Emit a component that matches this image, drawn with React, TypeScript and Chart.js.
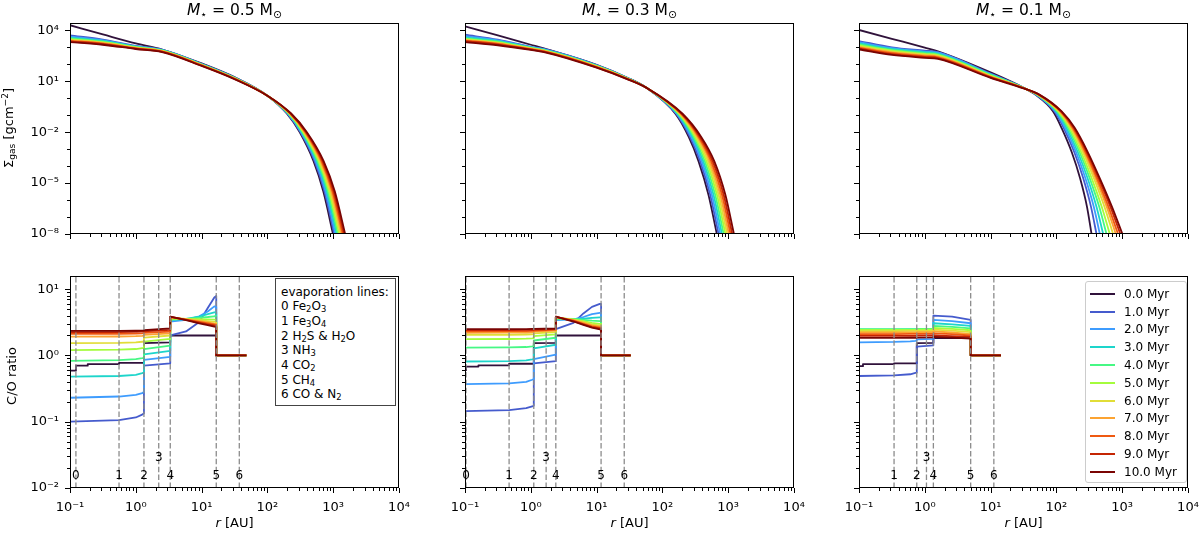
import { useEffect, useRef } from "react"
import type { CSSProperties, ReactNode } from "react"
import { Chart, registerables } from "chart.js"

Chart.register(...registerables)
Chart.defaults.font.family = "DejaVu Sans"

// disc ages shown in every panel
const times = [0, 1, 2, 3, 4, 5, 6, 7, 8, 9, 10]
const timeColors = [
  "#30123b", "#455bcd", "#3e9cfe", "#1dd5cb", "#46f884", "#a4fc3c",
  "#e1dd37", "#fca331", "#ef5911", "#c42503", "#7a0403",
]
const starMasses = ["0.5", "0.3", "0.1"]

// ---------- top row: gas surface density (log10 values)
// inner disc: log10 r grid, log10 Sigma for 0..10 Myr
const sigInnerLogR05 = [-1, -0.5, 0, 0.4, 1, 1.5]
const sigInner05 = [
  [4.30, 3.76, 3.23, 2.87, 2.05, 1.24],
  [3.70, 3.45, 3.08, 2.86, 2.02, 1.22],
  [3.63, 3.41, 3.06, 2.84, 2.01, 1.21],
  [3.57, 3.37, 3.04, 2.83, 2.00, 1.20],
  [3.52, 3.33, 3.02, 2.81, 1.98, 1.19],
  [3.48, 3.30, 3.00, 2.80, 1.97, 1.18],
  [3.44, 3.27, 2.98, 2.78, 1.96, 1.17],
  [3.41, 3.24, 2.96, 2.77, 1.95, 1.16],
  [3.38, 3.21, 2.94, 2.75, 1.93, 1.15],
  [3.35, 3.18, 2.92, 2.74, 1.92, 1.14],
  [3.31, 3.15, 2.90, 2.72, 1.90, 1.12],
]
// outer disc: log10 Sigma levels and the log10 r where each age reaches them
const sigOuterLevels05 = [0.15, -0.9, -2.0, -3.7, -5.5, -8.05]
const sigOuterLogR05 = [
  [2.0, 2.295, 2.490, 2.700, 2.850, 3.000],
  [2.0, 2.302, 2.501, 2.716, 2.868, 3.019],
  [2.0, 2.308, 2.512, 2.731, 2.885, 3.037],
  [2.0, 2.315, 2.523, 2.747, 2.903, 3.056],
  [2.0, 2.321, 2.534, 2.762, 2.920, 3.074],
  [2.0, 2.328, 2.545, 2.778, 2.938, 3.093],
  [2.0, 2.334, 2.556, 2.793, 2.955, 3.111],
  [2.0, 2.341, 2.567, 2.809, 2.973, 3.130],
  [2.0, 2.347, 2.578, 2.824, 2.990, 3.148],
  [2.0, 2.354, 2.589, 2.840, 3.008, 3.167],
  [2.0, 2.360, 2.600, 2.855, 3.025, 3.185],
]

const sigInnerLogR03 = [-1, -0.5, 0, 0.2, 1, 1.5]
const sigInner03 = [
  [4.24, 3.70, 3.15, 2.93, 1.97, 1.15],
  [3.74, 3.45, 3.03, 2.90, 1.95, 1.14],
  [3.66, 3.41, 3.01, 2.88, 1.93, 1.13],
  [3.59, 3.37, 2.99, 2.86, 1.92, 1.13],
  [3.53, 3.33, 2.97, 2.84, 1.90, 1.12],
  [3.49, 3.29, 2.95, 2.82, 1.89, 1.11],
  [3.45, 3.26, 2.93, 2.80, 1.87, 1.10],
  [3.42, 3.23, 2.91, 2.78, 1.86, 1.10],
  [3.39, 3.20, 2.89, 2.76, 1.84, 1.09],
  [3.36, 3.16, 2.87, 2.74, 1.82, 1.08],
  [3.31, 3.12, 2.85, 2.72, 1.80, 1.07],
]
const sigOuterLevels03 = [0.61, -0.93, -2.28, -3.72, -5.69, -8.05]
const sigOuterLogR03 = [
  [1.76, 2.200, 2.400, 2.550, 2.700, 2.830],
  [1.76, 2.211, 2.419, 2.574, 2.726, 2.856],
  [1.76, 2.222, 2.438, 2.598, 2.751, 2.882],
  [1.76, 2.233, 2.457, 2.622, 2.777, 2.908],
  [1.76, 2.244, 2.476, 2.646, 2.803, 2.934],
  [1.76, 2.255, 2.495, 2.670, 2.829, 2.960],
  [1.76, 2.266, 2.514, 2.694, 2.854, 2.986],
  [1.76, 2.277, 2.533, 2.718, 2.880, 3.012],
  [1.76, 2.288, 2.552, 2.742, 2.906, 3.038],
  [1.76, 2.299, 2.571, 2.766, 2.931, 3.064],
  [1.76, 2.310, 2.590, 2.790, 2.957, 3.090],
]

const sigInnerLogR01 = [-1, -0.5, 0, 0.2, 1, 1.5]
const sigInner01 = [
  [4.02, 3.50, 2.98, 2.76, 1.52, 0.62],
  [3.37, 3.00, 2.80, 2.72, 1.45, 0.62],
  [3.30, 2.95, 2.75, 2.68, 1.42, 0.62],
  [3.23, 2.90, 2.71, 2.63, 1.39, 0.61],
  [3.17, 2.85, 2.66, 2.59, 1.37, 0.61],
  [3.11, 2.80, 2.61, 2.54, 1.34, 0.60],
  [3.06, 2.75, 2.57, 2.50, 1.31, 0.60],
  [3.01, 2.70, 2.52, 2.45, 1.28, 0.60],
  [2.97, 2.65, 2.47, 2.41, 1.26, 0.59],
  [2.92, 2.60, 2.43, 2.36, 1.23, 0.59],
  [2.87, 2.55, 2.38, 2.32, 1.20, 0.58],
]
const sigOuterLevels01 = [0.21, -0.78, -1.76, -3.2, -4.72, -6.4, -8.07]
const sigOuterLogR01 = [
  [1.680, 1.950, 2.080, 2.235, 2.360, 2.465, 2.537],
  [1.690, 1.971, 2.112, 2.274, 2.408, 2.526, 2.613],
  [1.696, 1.985, 2.134, 2.301, 2.441, 2.568, 2.664],
  [1.703, 1.999, 2.156, 2.328, 2.474, 2.609, 2.715],
  [1.709, 2.014, 2.178, 2.355, 2.507, 2.651, 2.766],
  [1.715, 2.027, 2.198, 2.380, 2.537, 2.689, 2.816],
  [1.722, 2.041, 2.220, 2.407, 2.570, 2.731, 2.867],
  [1.727, 2.053, 2.238, 2.429, 2.597, 2.765, 2.908],
  [1.732, 2.062, 2.252, 2.446, 2.618, 2.792, 2.943],
  [1.736, 2.072, 2.268, 2.465, 2.642, 2.822, 2.979],
  [1.740, 2.080, 2.280, 2.480, 2.660, 2.845, 3.010],
]

// ---------- bottom row: gas C/O ratio, r in AU
// 0 Myr has its own steps
const coBlackR05 = [0.1, 0.123, 0.123, 0.186, 0.186, 0.556, 0.556, 1.33, 1.33, 3.34, 3.34, 16.7, 16.7, 48]
const coBlack05 = [0.59, 0.59, 0.70, 0.70, 0.74, 0.74, 0.77, 0.77, 1.53, 1.58, 2.0, 2.0, 1.0, 1.0]
// 1..10 Myr on a shared r list
const coR05 = [0.1, 0.556, 1.0, 1.25, 1.33, 1.33, 3.34, 3.34, 5.8, 9.2, 12.4, 15.6, 16.7, 16.7, 48]
const co05 = [
  [0.100, 0.106, 0.116, 0.128, 0.134, 0.70, 0.76, 2.00, 2.30, 3.20, 5.20, 7.50, 7.90, 1, 1],
  [0.23, 0.24, 0.255, 0.27, 0.28, 0.86, 0.95, 3.24, 3.45, 3.90, 4.60, 5.50, 5.40, 1, 1],
  [0.48, 0.49, 0.51, 0.54, 0.55, 1.04, 1.17, 3.40, 3.55, 3.85, 4.20, 4.45, 4.50, 1, 1],
  [0.83, 0.85, 0.88, 0.91, 0.92, 1.25, 1.41, 3.50, 3.55, 3.70, 3.80, 3.90, 3.90, 1, 1],
  [1.20, 1.22, 1.25, 1.29, 1.30, 1.62, 1.78, 3.60, 3.57, 3.52, 3.50, 3.46, 3.45, 1, 1],
  [1.53, 1.55, 1.58, 1.61, 1.62, 1.86, 2.00, 3.70, 3.55, 3.40, 3.30, 3.22, 3.20, 1, 1],
  [1.92, 1.93, 1.95, 1.97, 1.98, 2.04, 2.16, 3.75, 3.50, 3.30, 3.15, 3.03, 3.00, 1, 1],
  [2.11, 2.12, 2.14, 2.16, 2.17, 2.19, 2.29, 3.80, 3.47, 3.20, 3.05, 2.93, 2.90, 1, 1],
  [2.24, 2.25, 2.27, 2.28, 2.29, 2.30, 2.43, 3.85, 3.43, 3.12, 2.95, 2.83, 2.80, 1, 1],
  [2.34, 2.35, 2.36, 2.37, 2.38, 2.40, 2.57, 3.85, 3.40, 3.05, 2.87, 2.73, 2.70, 1, 1],
]
const evap05 = [0.123, 0.556, 1.33, 2.23, 3.34, 16.7, 37.4]
const evapNames05 = ["0", "1", "2", "3", "4", "5", "6"]

const coBlackR03 = [0.1, 0.1035, 0.1035, 0.16, 0.16, 0.468, 0.468, 1.11, 1.11, 2.40, 2.40, 11.7, 11.7, 33]
const coBlack03 = [0.60, 0.60, 0.68, 0.68, 0.71, 0.71, 0.75, 0.75, 1.53, 1.55, 2.0, 2.0, 1.0, 1.0]
const coR03 = [0.1, 0.468, 0.85, 1.05, 1.11, 1.11, 2.40, 2.40, 4.45, 6.3, 8.5, 11.2, 11.7, 11.7, 33]
const co03 = [
  [0.145, 0.150, 0.160, 0.170, 0.175, 0.76, 0.82, 2.50, 3.10, 4.30, 5.40, 6.00, 6.00, 1, 1],
  [0.37, 0.38, 0.40, 0.43, 0.44, 0.88, 1.03, 3.40, 3.50, 3.80, 4.20, 4.40, 4.40, 1, 1],
  [0.81, 0.82, 0.84, 0.87, 0.88, 1.28, 1.45, 3.50, 3.52, 3.60, 3.70, 3.75, 3.75, 1, 1],
  [1.31, 1.32, 1.34, 1.37, 1.38, 1.68, 1.85, 3.60, 3.55, 3.45, 3.35, 3.30, 3.30, 1, 1],
  [1.76, 1.77, 1.79, 1.81, 1.82, 1.95, 2.08, 3.70, 3.50, 3.30, 3.10, 3.00, 3.00, 1, 1],
  [2.04, 2.05, 2.07, 2.08, 2.09, 2.15, 2.25, 3.75, 3.45, 3.20, 2.95, 2.85, 2.85, 1, 1],
  [2.20, 2.21, 2.22, 2.23, 2.24, 2.28, 2.38, 3.80, 3.40, 3.10, 2.85, 2.72, 2.72, 1, 1],
  [2.31, 2.32, 2.33, 2.34, 2.34, 2.37, 2.45, 3.80, 3.35, 3.00, 2.75, 2.62, 2.62, 1, 1],
  [2.42, 2.42, 2.43, 2.44, 2.44, 2.45, 2.50, 3.85, 3.30, 2.95, 2.68, 2.55, 2.55, 1, 1],
  [2.49, 2.49, 2.50, 2.51, 2.51, 2.52, 2.55, 3.85, 3.25, 2.90, 2.62, 2.48, 2.48, 1, 1],
]
const evap03 = [0.1035, 0.468, 1.11, 1.71, 2.40, 11.7, 26.3]
const evapNames03 = ["0", "1", "2", "3", "4", "5", "6"]

const coBlackR01 = [0.1, 0.115, 0.115, 0.341, 0.341, 0.755, 0.755, 1.35, 1.35, 4.98, 4.98, 14.4]
const coBlack01 = [0.69, 0.69, 0.74, 0.74, 0.76, 0.76, 1.53, 1.55, 1.85, 1.82, 1.0, 1.0]
const coR01 = [0.1, 0.341, 0.6, 0.72, 0.755, 0.755, 1.35, 1.35, 2.6, 4.98, 4.98, 14.4]
const co01 = [
  [0.49, 0.50, 0.52, 0.545, 0.55, 1.36, 1.42, 3.98, 3.85, 3.43, 1, 1],
  [1.58, 1.60, 1.63, 1.66, 1.67, 1.75, 1.78, 3.43, 3.30, 3.06, 1, 1],
  [2.46, 2.46, 2.47, 2.47, 2.47, 2.48, 2.49, 3.06, 2.95, 2.79, 1, 1],
  [2.49, 2.49, 2.50, 2.50, 2.50, 2.51, 2.52, 2.79, 2.70, 2.57, 1, 1],
  [2.42, 2.42, 2.43, 2.43, 2.43, 2.44, 2.45, 2.60, 2.52, 2.40, 1, 1],
  [2.33, 2.33, 2.34, 2.34, 2.34, 2.35, 2.36, 2.45, 2.37, 2.25, 1, 1],
  [2.22, 2.22, 2.23, 2.23, 2.23, 2.24, 2.25, 2.30, 2.22, 2.10, 1, 1],
  [2.10, 2.10, 2.11, 2.11, 2.11, 2.12, 2.13, 2.15, 2.09, 2.00, 1, 1],
  [1.97, 1.97, 1.98, 1.98, 1.98, 1.99, 2.00, 2.00, 1.96, 1.90, 1, 1],
  [1.84, 1.84, 1.85, 1.85, 1.85, 1.86, 1.87, 1.90, 1.86, 1.80, 1, 1],
]
const evap01 = [0.341, 0.755, 1.06, 1.35, 4.98, 11.2]
const evapNames01 = ["1", "2", "3", "4", "5", "6"]

// height of the line numbers (C/O units); "3" sits higher
const evapLabelY = 0.015
const evapLabelY3 = 0.028

// ---------- axes
const xMajor = [0.1, 1, 10, 100, 1000, 10000]
const xMajorLabels = ["10⁻¹", "10⁰", "10¹", "10²", "10³", "10⁴"]
const sigMajor = [1e-8, 1e-5, 1e-2, 10, 1e4]
const sigMajorLabels = ["10⁻⁸", "10⁻⁵", "10⁻²", "10¹", "10⁴"]
const sigMinor = [1e-7, 1e-6, 1e-4, 1e-3, 0.1, 1, 100, 1000]
const coMajor = [0.01, 0.1, 1, 10]
const coMajorLabels = ["10⁻²", "10⁻¹", "10⁰", "10¹"]
const SIG_MIN = 1e-8
const SIG_MAX = 2.7e4
const CO_MIN = 0.01
const CO_MAX = 15.8

const sigInnerLogR = [sigInnerLogR05, sigInnerLogR03, sigInnerLogR01]
const sigInner = [sigInner05, sigInner03, sigInner01]
const sigOuterLevels = [sigOuterLevels05, sigOuterLevels03, sigOuterLevels01]
const sigOuterLogR = [sigOuterLogR05, sigOuterLogR03, sigOuterLogR01]
const coBlackR = [coBlackR05, coBlackR03, coBlackR01]
const coBlack = [coBlack05, coBlack03, coBlack01]
const coR = [coR05, coR03, coR01]
const co = [co05, co03, co01]
const evap = [evap05, evap03, evap01]
const evapNames = [evapNames05, evapNames03, evapNames01]

// layout (page pixels)
const COL_LEFT = [70, 465, 859]
const PANEL_W = 329
const ROW_TOP = [23, 276]
const ROW_H = [211, 212]
const PAD_L = 62
const PAD_R = 22
const PAD_T = 6
const PAD_B = [10, 45]
const FONT = "'DejaVu Sans', sans-serif"

const minorOf = (major: number[]) =>
  major.slice(0, -1).flatMap((d) => [2, 3, 4, 5, 6, 7, 8, 9].map((m) => m * d))

function tickList(major: number[], minor: number[]) {
  return [
    ...minor.map((v) => ({ value: v, major: false })),
    ...major.map((v) => ({ value: v, major: true })),
  ].sort((a, b) => a.value - b.value)
}

// matplotlib-like frame with outward major/minor ticks
const framePlugin = {
  id: "frame",
  afterDraw(chart: any) {
    const { ctx, chartArea: a } = chart
    const xs = chart.scales.x
    const ys = chart.scales.y
    ctx.save()
    ctx.strokeStyle = "#000"
    ctx.lineWidth = 1
    ctx.beginPath()
    for (const t of xs.ticks) {
      const px = Math.round(xs.getPixelForValue(t.value)) + 0.5
      ctx.moveTo(px, a.bottom)
      ctx.lineTo(px, a.bottom + (t.major ? 5 : 3))
    }
    for (const t of ys.ticks) {
      const py = Math.round(ys.getPixelForValue(t.value)) + 0.5
      ctx.moveTo(a.left - (t.major ? 5 : 3), py)
      ctx.lineTo(a.left, py)
    }
    ctx.stroke()
    ctx.strokeRect(a.left + 0.5, a.top + 0.5, a.right - a.left - 1, a.bottom - a.top - 1)
    ctx.restore()
  },
}

function evapLabelPlugin(lines: number[], names: string[]) {
  return {
    id: "evapLabels",
    afterDatasetsDraw(chart: any) {
      const { ctx } = chart
      const xs = chart.scales.x
      const ys = chart.scales.y
      ctx.save()
      ctx.fillStyle = "#000"
      ctx.font = `12px ${FONT}`
      ctx.textAlign = "center"
      ctx.textBaseline = "middle"
      lines.forEach((r, i) => {
        const y = names[i] === "3" ? evapLabelY3 : evapLabelY
        ctx.fillText(names[i], xs.getPixelForValue(r), ys.getPixelForValue(y))
      })
      ctx.restore()
    },
  }
}

function makeConfig(row: number, col: number): any {
  const top = row === 0
  const datasets: any[] = []
  if (top) {
    times.forEach((_, k) => {
      const inner = sigInnerLogR[col].map((lr, i) => ({ x: 10 ** lr, y: 10 ** sigInner[col][k][i] }))
      const outer = sigOuterLevels[col].map((lv, i) => ({ x: 10 ** sigOuterLogR[col][k][i], y: 10 ** lv }))
      datasets.push({
        data: [...inner, ...outer],
        borderColor: timeColors[k],
        borderWidth: 1.8,
        cubicInterpolationMode: "monotone",
        order: 10 - k,
      })
    })
  } else {
    datasets.push({
      data: coBlackR[col].map((r, i) => ({ x: r, y: coBlack[col][i] })),
      borderColor: timeColors[0],
      borderWidth: 1.8,
      order: 10,
    })
    co[col].forEach((vals, j) => {
      datasets.push({
        data: coR[col].map((r, i) => ({ x: r, y: vals[i] })),
        borderColor: timeColors[j + 1],
        borderWidth: 1.8,
        order: 9 - j,
      })
    })
    evap[col].forEach((r) => {
      datasets.push({
        data: [{ x: r, y: CO_MIN }, { x: r, y: CO_MAX }],
        borderColor: "#8c8c8c",
        borderWidth: 1.3,
        borderDash: [5.5, 2.4],
        order: -1,
      })
    })
  }

  const yMajor = top ? sigMajor : coMajor
  const yLabels = top ? sigMajorLabels : coMajorLabels
  const yMinor = top ? sigMinor : minorOf(coMajor)
  const tickFont = { family: FONT, size: 13 }

  return {
    type: "line",
    data: { datasets },
    options: {
      animation: false,
      responsive: false,
      events: [],
      layout: { padding: { top: PAD_T, right: PAD_R, left: 0, bottom: 0 } },
      elements: {
        point: { radius: 0 },
        line: { borderCapStyle: "butt", borderJoinStyle: "round", tension: 0 },
      },
      plugins: { legend: { display: false }, tooltip: { enabled: false } },
      scales: {
        x: {
          type: "logarithmic",
          min: 0.1,
          max: 1e4,
          afterBuildTicks: (s: any) => {
            s.ticks = tickList(xMajor, minorOf(xMajor))
          },
          afterFit: (s: any) => {
            s.height = PAD_B[row]
            s.paddingLeft = 0
            s.paddingRight = 0
          },
          grid: { display: false, drawTicks: false },
          border: { display: false },
          ticks: {
            display: !top,
            autoSkip: false,
            maxRotation: 0,
            minRotation: 0,
            padding: 12,
            color: "#000",
            font: tickFont,
            callback: (v: number) => {
              const i = xMajor.indexOf(v)
              return i >= 0 ? xMajorLabels[i] : ""
            },
          },
        },
        y: {
          type: "logarithmic",
          min: top ? SIG_MIN : CO_MIN,
          max: top ? SIG_MAX : CO_MAX,
          afterBuildTicks: (s: any) => {
            s.ticks = tickList(yMajor, yMinor)
          },
          afterFit: (s: any) => {
            s.width = PAD_L
            s.paddingTop = 0
            s.paddingBottom = 0
          },
          grid: { display: false, drawTicks: false },
          border: { display: false },
          ticks: {
            display: col === 0,
            autoSkip: false,
            padding: 11,
            color: "#000",
            font: tickFont,
            callback: (v: number) => {
              const i = yMajor.indexOf(v)
              return i >= 0 ? yLabels[i] : ""
            },
          },
        },
      },
    },
    plugins: top ? [framePlugin] : [framePlugin, evapLabelPlugin(evap[col], evapNames[col])],
  }
}

function Panel({ row, col }: { row: number; col: number }) {
  const canvasRef = useRef<HTMLCanvasElement | null>(null)
  const width = PAD_L + PANEL_W + PAD_R
  const height = PAD_T + ROW_H[row] + PAD_B[row]

  useEffect(() => {
    if (!canvasRef.current) return
    const chart = new Chart(canvasRef.current, makeConfig(row, col))
    return () => chart.destroy()
  }, [row, col])

  return (
    <canvas
      ref={canvasRef}
      width={width}
      height={height}
      style={{
        position: "absolute",
        left: COL_LEFT[col] - PAD_L,
        top: ROW_TOP[row] - PAD_T,
        width,
        height,
      }}
    />
  )
}

const subStyle: CSSProperties = { fontSize: "70%", verticalAlign: "-0.25em", lineHeight: 0 }
const supStyle: CSSProperties = { fontSize: "70%", verticalAlign: "0.5em", lineHeight: 0 }
const Sub = ({ children }: { children: ReactNode }) => <span style={subStyle}>{children}</span>
const Sup = ({ children }: { children: ReactNode }) => <span style={supStyle}>{children}</span>

const centered = (x: number, y: number, extra: CSSProperties = {}): CSSProperties => ({
  position: "absolute",
  left: x,
  top: y,
  transform: "translate(-50%, -50%)",
  whiteSpace: "nowrap",
  lineHeight: "16px",
  ...extra,
})

const evapRows: ReactNode[] = [
  <>evaporation lines:</>,
  <>0 Fe<Sub>2</Sub>O<Sub>3</Sub></>,
  <>1 Fe<Sub>3</Sub>O<Sub>4</Sub></>,
  <>2 H<Sub>2</Sub>S &amp; H<Sub>2</Sub>O</>,
  <>3 NH<Sub>3</Sub></>,
  <>4 CO<Sub>2</Sub></>,
  <>5 CH<Sub>4</Sub></>,
  <>6 CO &amp; N<Sub>2</Sub></>,
]

export default function App() {
  const centersX = COL_LEFT.map((l) => l + PANEL_W / 2)
  return (
    <div
      style={{
        position: "fixed",
        left: 0,
        top: 0,
        width: 1200,
        height: 533,
        overflow: "hidden",
        background: "#fff",
        fontFamily: FONT,
        color: "#000",
      }}
    >
      {[0, 1].map((row) => [0, 1, 2].map((col) => <Panel key={`${row}-${col}`} row={row} col={col} />))}

      {starMasses.map((m, c) => (
        <div key={m} style={centered(centersX[c], 10, { fontSize: 15.5 })}>
          <i>M</i>
          <Sub>⋆</Sub> = {m} M<Sub>⊙</Sub>
        </div>
      ))}

      {centersX.map((cx) => (
        <div key={cx} style={centered(cx, 523, { fontSize: 13 })}>
          <i>r</i> [AU]
        </div>
      ))}

      <div style={centered(9, 128, { fontSize: 13, transform: "translate(-50%, -50%) rotate(-90deg)" })}>
        Σ<Sub>gas</Sub> [gcm<Sup>−2</Sup>]
      </div>
      <div style={centered(12, 376, { fontSize: 13, transform: "translate(-50%, -50%) rotate(-90deg)" })}>
        C/O ratio
      </div>

      {/* evaporation line key, first C/O panel */}
      <div
        style={{
          position: "absolute",
          left: 275,
          top: 278,
          width: 121,
          height: 128,
          border: "1px solid #444",
          background: "#fff",
          boxSizing: "border-box",
        }}
      >
        {evapRows.map((content, i) => (
          <div
            key={i}
            style={{
              position: "absolute",
              left: 5,
              top: 12.7 + i * 14.66,
              transform: "translateY(-50%)",
              fontSize: 12,
              lineHeight: "14px",
              whiteSpace: "nowrap",
            }}
          >
            {content}
          </div>
        ))}
      </div>

      {/* age legend, last C/O panel */}
      <div
        style={{
          position: "absolute",
          left: 1085,
          top: 281,
          width: 102,
          height: 202,
          border: "1px solid #cccccc",
          borderRadius: 3,
          background: "rgba(255,255,255,0.8)",
          boxSizing: "border-box",
        }}
      >
        {times.map((t, i) => (
          <div key={t}>
            <div
              style={{
                position: "absolute",
                left: 4,
                top: 10.7 + i * 17.8,
                width: 25,
                height: 2,
                background: timeColors[i],
              }}
            />
            <div
              style={{
                position: "absolute",
                left: 38,
                top: 11.7 + i * 17.8,
                transform: "translateY(-50%)",
                fontSize: 12,
                lineHeight: "14px",
                whiteSpace: "nowrap",
              }}
            >
              {t.toFixed(1)} Myr
            </div>
          </div>
        ))}
      </div>
    </div>
  )
}
